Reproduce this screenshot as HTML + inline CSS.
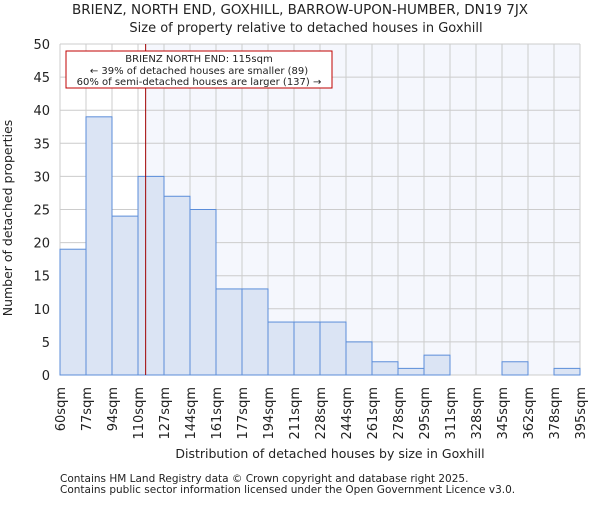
<!DOCTYPE html>
<html><head><meta charset="utf-8"><style>
body{margin:0;background:#fff;}
svg text{font-family:"DejaVu Sans","Liberation Sans",sans-serif;fill:#222;}
</style></head><body>
<svg id="chart" width="600" height="500" xmlns="http://www.w3.org/2000/svg">
<text x="300" y="14" font-size="13.5" text-anchor="middle">BRIENZ, NORTH END, GOXHILL, BARROW-UPON-HUMBER, DN19 7JX</text>
<text x="306" y="32" font-size="13" text-anchor="middle">Size of property relative to detached houses in Goxhill</text>
<rect x="146" y="44" width="434" height="331" fill="#f5f7fd"/>
<g id="grid"></g>
<g id="bars"></g>
<g id="yticks"></g>
<g id="xticks"></g>
<line id="marker" y1="44" y2="375" stroke="#a00000" stroke-width="1"/>
<rect x="66" y="51" width="266" height="37" fill="#fff" stroke="#c00000" stroke-width="1"/>
<text x="199" y="62" font-size="10" text-anchor="middle">BRIENZ NORTH END: 115sqm</text>
<text x="199" y="74" font-size="10" text-anchor="middle">← 39% of detached houses are smaller (89)</text>
<text x="199" y="85" font-size="10" text-anchor="middle">60% of semi-detached houses are larger (137) →</text>
<text x="330" y="458" font-size="12.5" text-anchor="middle">Distribution of detached houses by size in Goxhill</text>
<text transform="translate(12,218) rotate(-90)" font-size="12.5" text-anchor="middle">Number of detached properties</text>
<text x="60" y="482" font-size="10.5">Contains HM Land Registry data © Crown copyright and database right 2025.</text>
<text x="60" y="493" font-size="10.5">Contains public sector information licensed under the Open Government Licence v3.0.</text>
</svg>
<script>
const tickLabels=["60sqm","77sqm","94sqm","110sqm","127sqm","144sqm","161sqm","177sqm","194sqm","211sqm","228sqm","244sqm","261sqm","278sqm","295sqm","311sqm","328sqm","345sqm","362sqm","378sqm","395sqm"];
const counts=[19,39,24,30,27,25,13,13,8,8,8,5,2,1,3,0,0,2,0,1];
const yTicks=[0,5,10,15,20,25,30,35,40,45,50];
const markerBin=3+5/17;
const X0=60,X1=580,Y0=375,Y1=44,YMAX=50;
const NS="http://www.w3.org/2000/svg";
const bw=(X1-X0)/counts.length;
const xs=i=>X0+i*bw;
const ys=v=>Y0-(v/YMAX)*(Y0-Y1);
function mk(tag,attrs,parent,txt){const e=document.createElementNS(NS,tag);for(const k in attrs)e.setAttribute(k,attrs[k]);if(txt!==undefined)e.textContent=txt;document.getElementById(parent).appendChild(e);return e;}
yTicks.forEach(t=>{
 const l=mk('line',{x1:X0,x2:X1,y1:ys(t),y2:ys(t),stroke:'#cccccc','stroke-width':1},'grid');
 
 
 const tx=mk('text',{x:X0-10,y:ys(t)+5,'font-size':13,'text-anchor':'end'},'yticks',String(t));
 
 
});
tickLabels.forEach((s,i)=>{
 const l=mk('line',{x1:xs(i),x2:xs(i),y1:Y1,y2:Y0,stroke:'#cccccc','stroke-width':1},'grid');
 
 
 const tx=mk('text',{transform:`translate(${xs(i)+5},387) rotate(-90)`,'font-size':13,'text-anchor':'end'},'xticks',s);
 
 
});
counts.forEach((v,i)=>{
 const r=mk('rect',{x:xs(i),y:ys(v),width:bw,height:Y0-ys(v),fill:'#dbe4f4',stroke:'#5b8dd9','stroke-width':1},'bars');
 
 
});
const m=document.getElementById('marker');
m.setAttribute('x1',xs(markerBin));m.setAttribute('x2',xs(markerBin));
</script>
</body></html>
